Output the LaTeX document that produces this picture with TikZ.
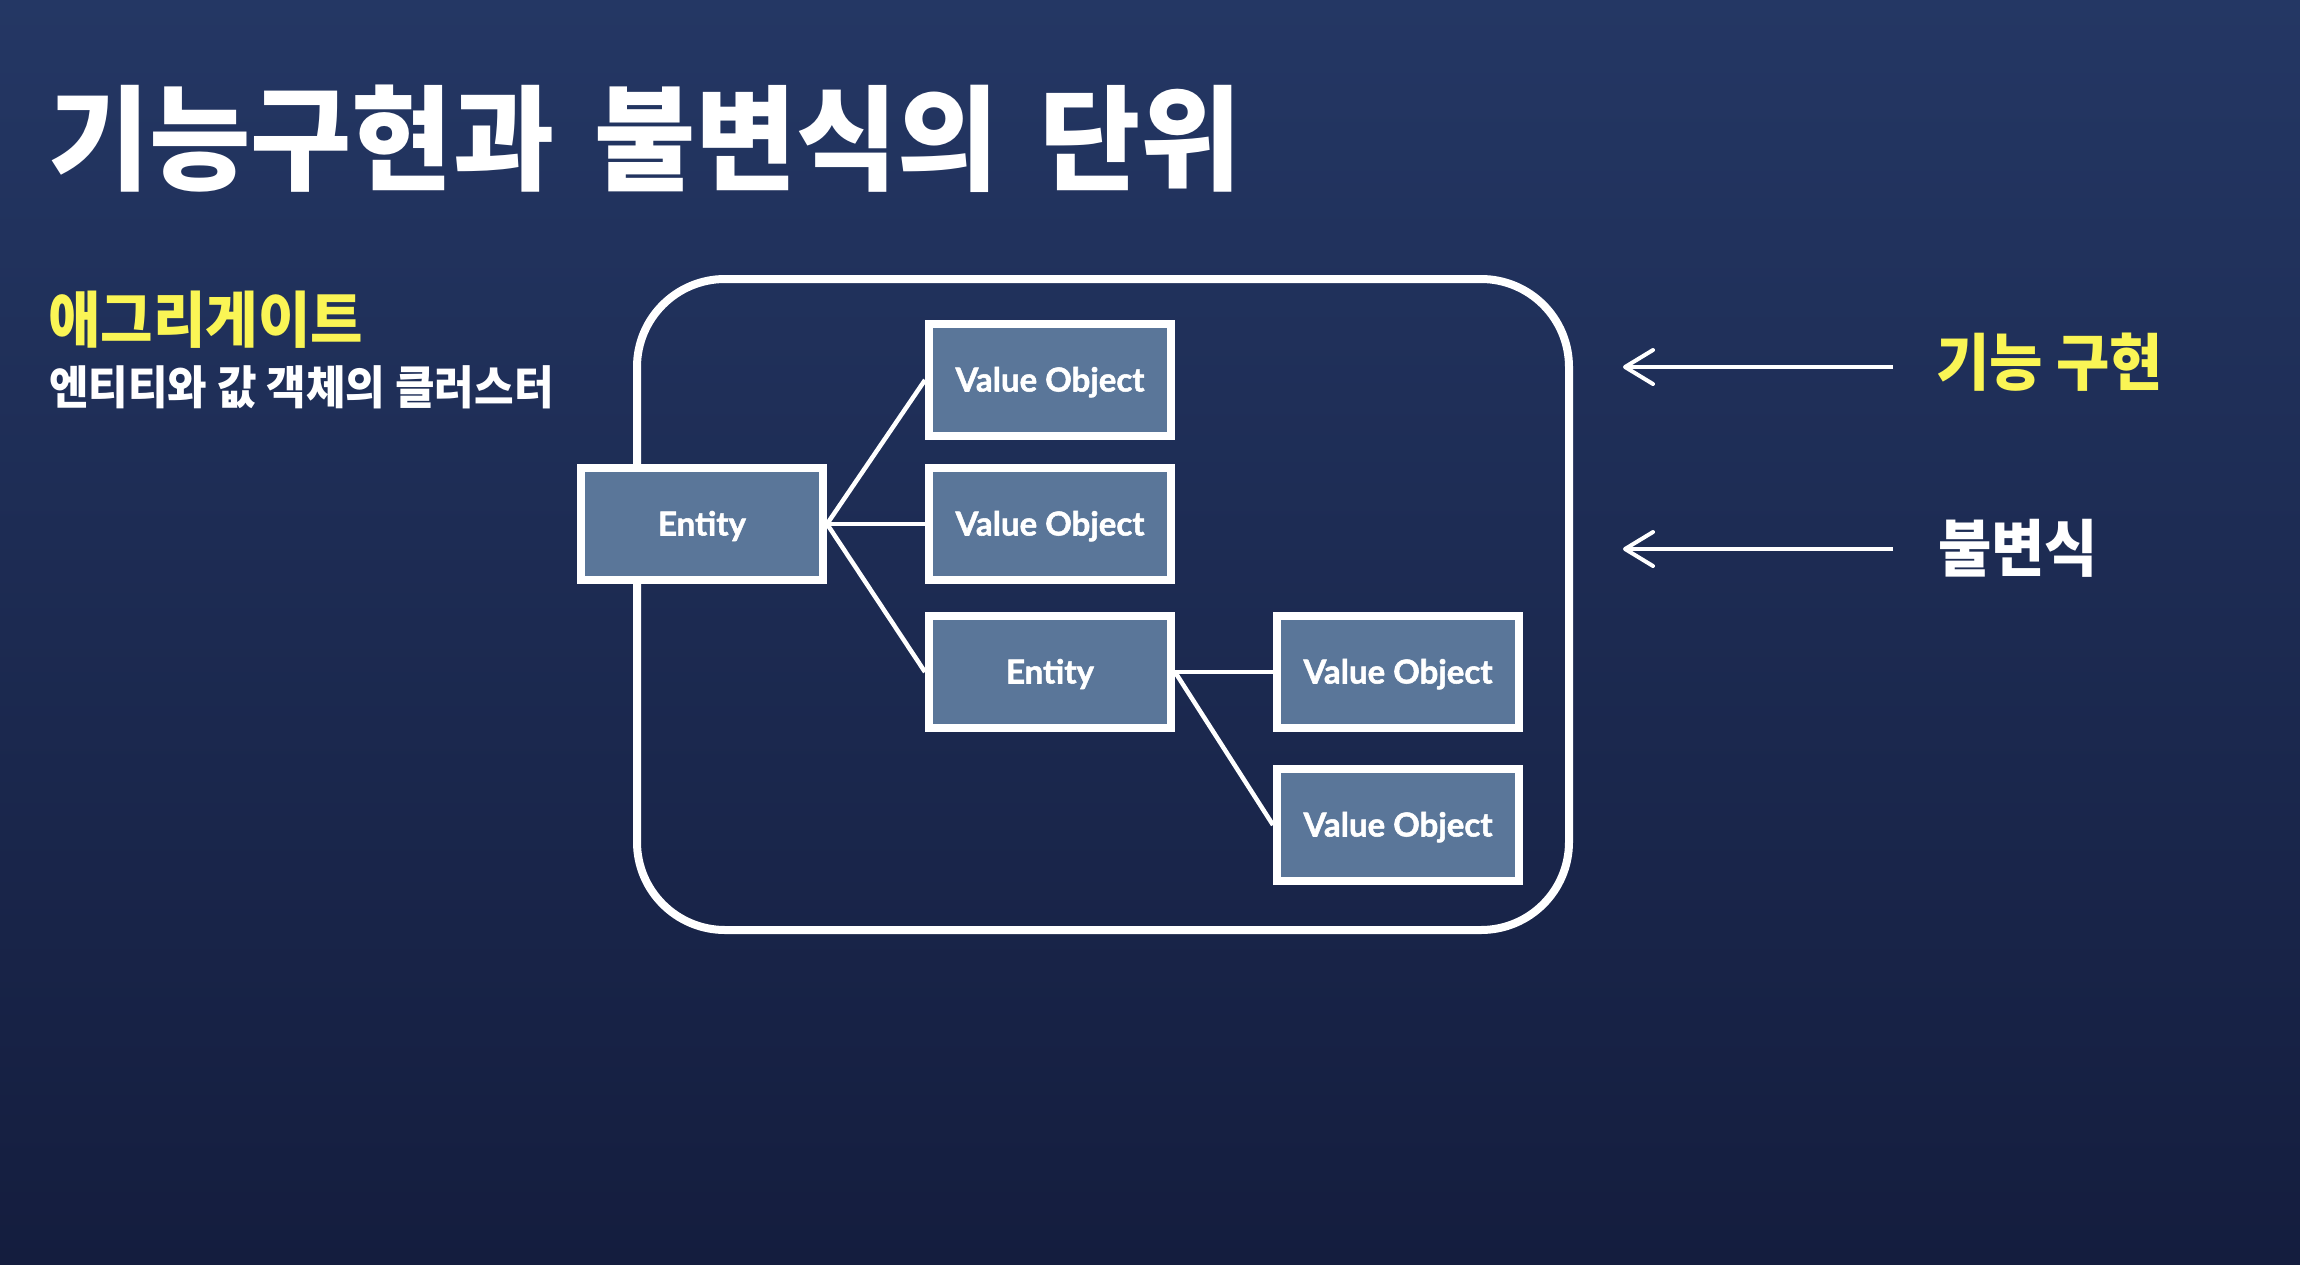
\documentclass[tikz,border=0pt]{standalone}
\usepackage{fontspec}
\newfontfamily\krtitle[FakeStretch=0.965]{Noto Sans CJK KR}
\newfontfamily\krfont[FakeStretch=0.935]{Noto Sans CJK KR}
\newfontfamily\boxfont[FakeBold=1.6]{Lato}
\usetikzlibrary{arrows.meta}
\definecolor{bgtop}{RGB}{36,55,100}
\definecolor{bgmid}{RGB}{31,47,88}
\definecolor{bgbot}{RGB}{20,29,62}
\definecolor{boxfill}{RGB}{90,118,153}
\definecolor{hl}{RGB}{250,245,85}
\begin{document}
\begin{tikzpicture}[x=1pt,y=-1pt,
  obj/.style={draw=white, line width=8pt, fill=boxfill, minimum width=242pt, minimum height=112pt, inner sep=0pt,
    font=\boxfont\bfseries\fontsize{33}{33}\selectfont, text=white, text height=23pt, text depth=0pt},
  link/.style={draw=white, line width=4.5pt},
  arr/.style={draw=white, line width=4pt, -{Straight Barb[length=28pt,width=34pt,round]}},
  lbl/.style={anchor=west, inner sep=0pt, text=white}
]
\useasboundingbox (0,0) rectangle (2300,1264);
\shade[top color=bgtop, middle color=bgmid, bottom color=bgbot] (0,0) rectangle (2300,1264);

% title and side texts
\node[lbl, font=\krtitle\bfseries\fontsize{114}{114}\selectfont] (title) at (48,139) {\spaceskip=40pt 기능구현과 불변식의 단위};
\node[lbl, text=hl, font=\krfont\bfseries\fontsize{61}{61}\selectfont] (agglbl) at (48,320) {애그리게이트};
\node[lbl, font=\krfont\bfseries\fontsize{46}{46}\selectfont] (aggdesc) at (49,387) {엔티티와 값 객체의 클러스터};

% aggregate boundary
\node[draw=white, line width=8pt, rounded corners=88pt, minimum width=932pt, minimum height=651pt, inner sep=0pt] (agg) at (1103,604.5) {};

% objects
\node[obj] (e1) at (702,524) {Entity};
\node[obj] (vo1) at (1050,380) {Value Object};
\node[obj] (vo2) at (1050,524) {Value Object};
\node[obj] (e2) at (1050,672) {Entity};
\node[obj] (vo3) at (1398,672) {Value Object};
\node[obj] (vo4) at (1398,825) {Value Object};

\draw[link] (e1.east) -- (vo1.west);
\draw[link] (e1.east) -- (vo2.west);
\draw[link] (e1.east) -- (e2.west);
\draw[link] (e2.east) -- (vo3.west);
\draw[link] (e2.east) -- (vo4.west);

% right labels and arrows
\node[lbl, text=hl, font=\krfont\bfseries\fontsize{62}{62}\selectfont] (func) at (1936,362) {기능 구현};
\node[lbl, font=\krfont\bfseries\fontsize{62}{62}\selectfont] (inv) at (1938,548) {불변식};
\coordinate (a1s) at (1893,367);
\coordinate (a1e) at (1623,367);
\coordinate (a2s) at (1893,549);
\coordinate (a2e) at (1623,549);
\draw[arr] (a1s) -- (a1e);
\draw[arr] (a2s) -- (a2e);
\end{tikzpicture}
\end{document}
